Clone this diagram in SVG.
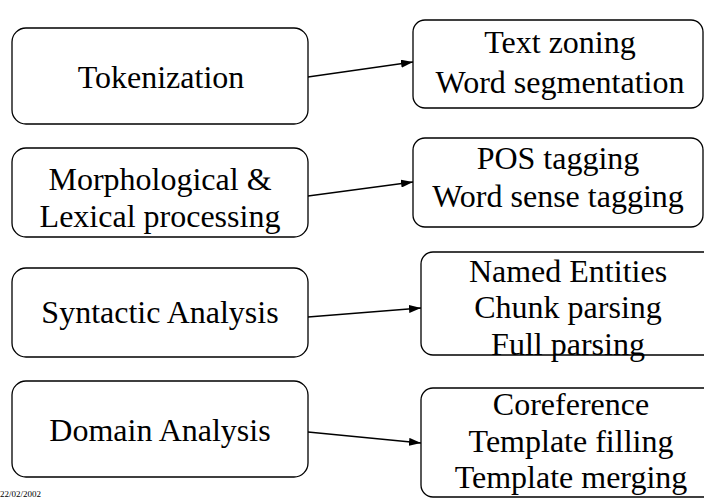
<svg xmlns="http://www.w3.org/2000/svg" width="704" height="500" viewBox="0 0 704 500">
  <style>
    .box { fill: #ffffff; stroke: #000000; stroke-width: 1.3; }
    .lbl { font-size: 32px; fill: #000000; text-anchor: middle; }
    .edge { stroke: #000000; stroke-width: 1.3; fill: none; marker-end: url(#head); }
    .date { font-size: 9px; fill: #000000; }
  </style>
  <defs>
    <marker id="head" viewBox="0 0 12 8" refX="12" refY="4" markerWidth="12" markerHeight="8" markerUnits="userSpaceOnUse" orient="auto">
      <path d="M0,0 L12,4 L0,8 Z" fill="#000000"/>
    </marker>
  </defs>
  <rect width="704" height="500" fill="#ffffff"/>

  <g font-family="Liberation Serif, Times New Roman, Times, serif">
  <!-- processing stages -->
  <g id="tokenization">
    <rect class="box" x="12" y="28" width="296" height="96" rx="14"/>
    <text class="lbl" x="161" y="88">Tokenization</text>
  </g>
  <g id="morphological">
    <rect class="box" x="12" y="148" width="296" height="89" rx="14"/>
    <text class="lbl" x="160" y="190">Morphological &amp;</text>
    <text class="lbl" x="160" y="227">Lexical processing</text>
  </g>
  <g id="syntactic">
    <rect class="box" x="12" y="268" width="296" height="89" rx="14"/>
    <text class="lbl" x="160" y="323">Syntactic Analysis</text>
  </g>
  <g id="domain">
    <rect class="box" x="12" y="381" width="296" height="96" rx="14"/>
    <text class="lbl" x="160" y="441">Domain Analysis</text>
  </g>

  <!-- tasks per stage -->
  <g id="zoning">
    <rect class="box" x="413" y="20" width="290" height="88" rx="12"/>
    <text class="lbl" x="560" y="53">Text zoning</text>
    <text class="lbl" x="560" y="93">Word segmentation</text>
  </g>
  <g id="tagging">
    <rect class="box" x="413" y="138" width="290" height="89" rx="12"/>
    <text class="lbl" x="558" y="169">POS tagging</text>
    <text class="lbl" x="558" y="207">Word sense tagging</text>
  </g>
  <g id="parsing">
    <rect class="box" x="421" y="252" width="300" height="103" rx="12"/>
    <text class="lbl" x="568" y="282">Named Entities</text>
    <text class="lbl" x="568" y="318">Chunk parsing</text>
    <text class="lbl" x="568" y="355">Full parsing</text>
  </g>
  <g id="templates">
    <rect class="box" x="421" y="388" width="300" height="109" rx="12"/>
    <text class="lbl" x="571" y="415">Coreference</text>
    <text class="lbl" x="571" y="452">Template filling</text>
    <text class="lbl" x="571" y="488">Template merging</text>
  </g>

  <text class="date" x="0" y="497">22/02/2002</text>
  </g>

  <!-- connectors -->
  <g id="connectors">
    <line class="edge" x1="308" y1="77" x2="413" y2="62"/>
    <line class="edge" x1="308" y1="196" x2="413" y2="182"/>
    <line class="edge" x1="308" y1="317" x2="421" y2="308"/>
    <line class="edge" x1="308" y1="432" x2="421" y2="443"/>
  </g>
</svg>
